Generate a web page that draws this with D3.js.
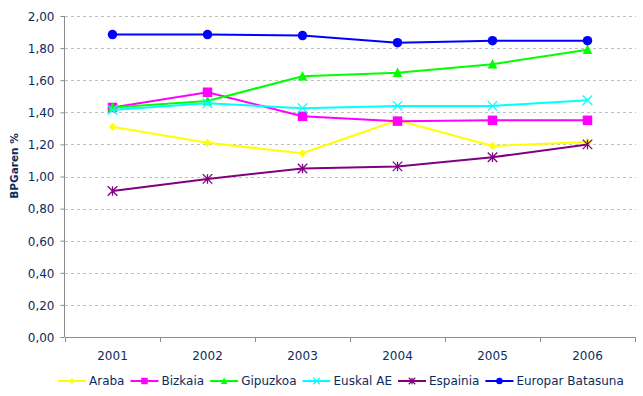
<!DOCTYPE html>
<html><head><meta charset="utf-8">
<script src="https://cdn.jsdelivr.net/npm/d3@7"></script>
<style>body{margin:0;background:#fff}svg{display:block}text{font-family:"DejaVu Sans",Verdana,sans-serif;fill:#0a2d5e}</style>
</head><body><svg id="c" width="643" height="396"></svg>
<script>
const years = ["2001","2002","2003","2004","2005","2006"];
const seriesNames = ["Araba","Bizkaia","Gipuzkoa","Euskal AE","Espainia","Europar Batasuna"];
const araba    = [1.31,1.21,1.145,1.35,1.19,1.215];
const bizkaia  = [1.43,1.525,1.375,1.345,1.35,1.35];
const gipuzkoa = [1.43,1.47,1.625,1.647,1.70,1.79];
const euskal   = [1.414,1.456,1.426,1.44,1.44,1.475];
const espainia = [0.91,0.985,1.05,1.063,1.12,1.20];
const europar  = [1.884,1.884,1.878,1.834,1.846,1.846];
const yTicks = [0,0.2,0.4,0.6,0.8,1.0,1.2,1.4,1.6,1.8,2.0];
const colors = ["#ffff00","#ff00ff","#00ff00","#00ffff","#800080","#0000ff"];
const markers = ["diamond","square","triangle","x","asterisk","circle"];
const allSeries = [araba,bizkaia,gipuzkoa,euskal,espainia,europar];

const svg = d3.select("#c");
const L=65, R=635, T=16, B=337;
const x = d3.scaleBand().domain(years).range([L,R]);
const y = d3.scaleLinear().domain([0,2]).range([B,T]);
const fmt = v => d3.format(".2f")(v).replace(".",",");

// gridlines
svg.append("g").selectAll("line").data(yTicks.filter(v=>v>0)).join("line")
  .attr("x1",L).attr("x2",R+1).attr("y1",d=>Math.round(y(d))+0.5).attr("y2",d=>Math.round(y(d))+0.5)
  .attr("stroke","#c0c0c0").attr("stroke-dasharray","3,3");

// y axis
const ya = svg.append("g").attr("transform",`translate(${L-0.5},0)`)
  .call(d3.axisLeft(y).tickValues(yTicks).tickFormat(fmt).tickSize(4).tickPadding(6));
ya.select(".domain").attr("stroke","#8c8c8c").attr("d",`M0,${T}V${B}`);
ya.selectAll(".tick line").attr("stroke","#8c8c8c");
ya.selectAll("text").attr("font-size","12px").attr("font-family","DejaVu Sans").attr("fill","#0a2d5e").attr("dy","0.36em");

// x axis
const xa = svg.append("g").attr("transform",`translate(0,${B+0.5})`)
  .call(d3.axisBottom(x).tickSize(0).tickPadding(14));
xa.select(".domain").attr("stroke","#8c8c8c").attr("d",`M${L},0H${R}`);
xa.selectAll("text").attr("font-size","12px").attr("font-family","DejaVu Sans").attr("fill","#0a2d5e");
svg.append("g").selectAll("line").data(years.concat(["end"])).join("line")
  .attr("x1",(d,i)=>Math.round(L+i*x.bandwidth())+0.5).attr("x2",(d,i)=>Math.round(L+i*x.bandwidth())+0.5)
  .attr("y1",B).attr("y2",B+5).attr("stroke","#8c8c8c");

// y title
svg.append("text").attr("transform",`translate(18,166) rotate(-90)`).attr("text-anchor","middle")
  .attr("font-size","10.5px").attr("font-weight","bold").text("BPGaren %");

function markerPath(type, s){
  const h=s/2;
  switch(type){
    case "diamond": return `M0,${-h}L${h*0.85},0L0,${h}L${-h*0.85},0Z`;
    case "square": return `M${-h},${-h}H${h}V${h}H${-h}Z`;
    case "triangle": return `M0,${-h*1.1}L${h},${h*0.9}L${-h},${h*0.9}Z`;
    case "x": return `M${-h},${-h}L${h},${h}M${-h},${h}L${h},${-h}`;
    case "asterisk": return `M${-h},${-h}L${h},${h}M${-h},${h}L${h},${-h}M0,${-h}V${h}`;
    case "circle": return d3.symbol(d3.symbolCircle, Math.PI*h*h)();
  }
}
const stroked = t => t==="x"||t==="asterisk";
const cx = d => x(d)+x.bandwidth()/2;
const line = d3.line().x((d,i)=>cx(years[i])).y(d=>y(d));

allSeries.forEach((vals,si)=>{
  const g = svg.append("g");
  g.append("path").datum(vals).attr("d",line).attr("fill","none").attr("stroke",colors[si]).attr("stroke-width",2);
  g.selectAll("path.m").data(vals).join("path").attr("class","m")
    .attr("transform",(d,i)=>`translate(${cx(years[i])},${y(d)})`)
    .attr("d",markerPath(markers[si], markers[si]==="circle"?9.5:(markers[si]==="diamond"?8.5:9.5)))
    .attr("fill",stroked(markers[si])?"none":colors[si])
    .attr("stroke",colors[si]).attr("stroke-width",stroked(markers[si])?1.3:0);
});

// legend
const lg = svg.append("g").attr("transform","translate(58,381)");
let lx=0;
seriesNames.forEach((n,si)=>{
  const it = lg.append("g").attr("transform",`translate(${lx},0)`);
  it.append("line").attr("x1",0).attr("x2",28).attr("stroke",colors[si]).attr("stroke-width",2);
  it.append("path").attr("transform","translate(14,0)").attr("d",markerPath(markers[si],6.5))
    .attr("fill",stroked(markers[si])?"none":colors[si]).attr("stroke",colors[si]).attr("stroke-width",stroked(markers[si])?1.2:0);
  const t = it.append("text").attr("x",31).attr("dy","0.36em").attr("font-size","12px").text(n);
  lx += 31 + t.node().getComputedTextLength() + 6;
});
</script></body></html>
